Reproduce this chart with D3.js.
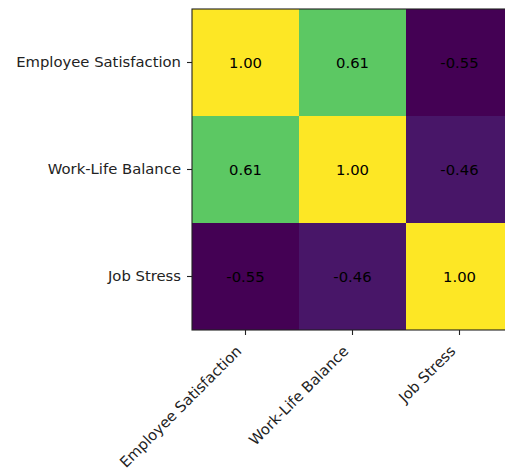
<!DOCTYPE html>
<html>
<head>
<meta charset="utf-8">
<script src="https://cdn.jsdelivr.net/npm/d3@7"></script>
<style>
  html, body { margin: 0; padding: 0; background: #fff; }
  svg { display: block; }
  text { font-family: "DejaVu Sans", sans-serif; }
</style>
</head>
<body>
<svg id="chart" width="505" height="472"></svg>
<script>
// Correlation matrix of workplace metrics
const variables = ["Employee Satisfaction", "Work-Life Balance", "Job Stress"];
const rowEmployeeSatisfaction = [1.00, 0.61, -0.55];
const rowWorkLifeBalance = [0.61, 1.00, -0.46];
const rowJobStress = [-0.55, -0.46, 1.00];
const matrix = [rowEmployeeSatisfaction, rowWorkLifeBalance, rowJobStress];

const svg = d3.select("#chart");
const plot = { left: 192, top: 9, size: 321 };
const fontSize = "14.8px";

const x = d3.scaleBand().domain(variables).range([plot.left, plot.left + plot.size]);
const y = d3.scaleBand().domain(variables).range([plot.top, plot.top + plot.size]);

const allValues = matrix.flat();
const color = d3.scaleSequential(d3.interpolateViridis)
  .domain([d3.min(allValues), d3.max(allValues)]);

const cells = [];
matrix.forEach((row, i) => row.forEach((v, j) => {
  cells.push({ row: variables[i], col: variables[j], value: v });
}));

// Heatmap cells
svg.append("g").selectAll("rect")
  .data(cells)
  .join("rect")
  .attr("x", d => x(d.col))
  .attr("y", d => y(d.row))
  .attr("width", x.bandwidth())
  .attr("height", y.bandwidth())
  .attr("fill", d => color(d.value));

// Value annotations
svg.append("g").selectAll("text")
  .data(cells)
  .join("text")
  .attr("x", d => x(d.col) + x.bandwidth() / 2)
  .attr("y", d => y(d.row) + y.bandwidth() / 2)
  .attr("text-anchor", "middle")
  .attr("dominant-baseline", "central")
  .attr("font-size", fontSize)
  .attr("fill", "#000")
  .text(d => d.value.toFixed(2));

// Frame
svg.append("rect")
  .attr("x", plot.left)
  .attr("y", plot.top)
  .attr("width", plot.size)
  .attr("height", plot.size)
  .attr("fill", "none")
  .attr("stroke", "#222")
  .attr("stroke-width", 1.1);

// Y axis
const yAxis = d3.axisLeft(y).tickSize(5).tickPadding(6);
const gy = svg.append("g")
  .attr("transform", `translate(${plot.left},0)`)
  .call(yAxis);
gy.select(".domain").remove();
gy.selectAll(".tick line").attr("stroke", "#222").attr("stroke-width", 1.1);
gy.selectAll(".tick text")
  .attr("font-size", fontSize)
  .attr("font-family", "DejaVu Sans, sans-serif")
  .attr("fill", "#222");

// X axis with rotated labels
const xAxis = d3.axisBottom(x).tickSize(5).tickPadding(6);
const gx = svg.append("g")
  .attr("transform", `translate(0,${plot.top + plot.size})`)
  .call(xAxis);
gx.select(".domain").remove();
gx.selectAll(".tick line").attr("stroke", "#222").attr("stroke-width", 1.1);
gx.selectAll(".tick text")
  .attr("font-size", fontSize)
  .attr("font-family", "DejaVu Sans, sans-serif")
  .attr("fill", "#222")
  .attr("text-anchor", "end")
  .attr("y", 0)
  .attr("dy", 0)
  .attr("transform", "translate(-3,22) rotate(-45)");
</script>
</body>
</html>
